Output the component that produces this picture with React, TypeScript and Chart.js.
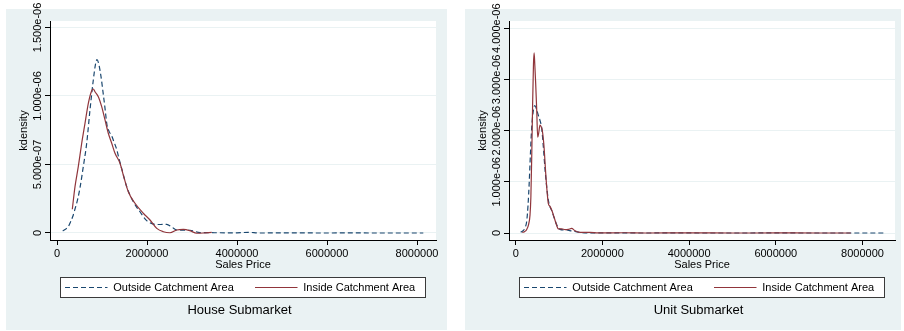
import React, { useEffect, useRef } from 'react';
import { Chart, registerables } from 'chart.js';

Chart.register(...registerables);

// ---------- data ----------
const seriesLabels = ['Outside Catchment Area', 'Inside Catchment Area'];
const panelTitles = ['House Submarket', 'Unit Submarket'];
const xTitle = 'Sales Price';
const yTitle = 'kdensity';

const xTicks = [0, 2000000, 4000000, 6000000, 8000000];
const xTickLabels = ['0', '2000000', '4000000', '6000000', '8000000'];
const houseYTicks = [0, 5e-7, 1e-6, 1.5e-6];
const houseYTickLabels = ['0', '5.000e-07', '1.000e-06', '1.500e-06'];
const unitYTicks = [0, 1e-6, 2e-6, 3e-6, 4e-6];
const unitYTickLabels = ['0', '1.000e-06', '2.000e-06', '3.000e-06', '4.000e-06'];

const houseXRange = [-155556, 8422000];
const houseYRange = [-5.11e-8, 1.5474e-6];
const unitXRange = [-154556, 8750000];
const unitYRange = [-1.367e-7, 4.141e-6];

const houseOutsidePrice = [127e3, 200e3, 251e3, 300e3, 350e3, 400e3, 455e3, 511e3, 584e3, 660e3, 733e3, 807e3, 860e3, 890e3, 933e3, 978e3, 1022e3, 1067e3, 1110e3, 1160e3, 1216e3, 1267e3, 1327e3, 1380e3, 1438e3, 1549e3, 1696e3, 1844e3, 1993e3, 2100e3, 2178e3, 2300e3, 2438e3, 2549e3, 2660e3, 2800e3, 2956e3, 3178e3, 3500e3, 4000e3, 4250e3, 4500e3, 5000e3, 6000e3, 6500e3, 7000e3, 8140e3];
const houseOutsideDensity = [1.5e-8, 3.0e-8, 4.6e-8, 8.0e-8, 1.2e-7, 1.75e-7, 2.4e-7, 3.3e-7, 4.84e-7, 6.55e-7, 8.98e-7, 1.117e-6, 1.24e-6, 1.265e-6, 1.226e-6, 1.141e-6, 1.03e-6, 9.1e-7, 7.9e-7, 7.4e-7, 7.08e-7, 6.64e-7, 6.1e-7, 5.4e-7, 4.7e-7, 3.38e-7, 2.28e-7, 1.55e-7, 9.0e-8, 7.0e-8, 6.3e-8, 6.2e-8, 6.3e-8, 4.4e-8, 2.2e-8, 2.0e-8, 2.0e-8, 3e-9, 2e-9, 1e-9, 5e-9, 0, 1e-9, 0, 1e-9, 0, 0];

const houseInsidePrice = [340e3, 400e3, 473e3, 549e3, 622e3, 696e3, 771e3, 807e3, 844e3, 918e3, 993e3, 1067e3, 1140e3, 1216e3, 1289e3, 1400e3, 1473e3, 1584e3, 1733e3, 1918e3, 2067e3, 2216e3, 2362e3, 2511e3, 2660e3, 2807e3, 2956e3, 3104e3, 3251e3, 3438e3];
const houseInsideDensity = [1.73e-7, 3.38e-7, 4.84e-7, 6.55e-7, 8.0e-7, 9.47e-7, 1.039e-6, 1.051e-6, 1.031e-6, 9.95e-7, 9.22e-7, 8.25e-7, 7.28e-7, 6.55e-7, 5.82e-7, 5.09e-7, 4.23e-7, 3.01e-7, 2.17e-7, 1.44e-7, 9.5e-8, 3.4e-8, 9.5e-9, 2e-9, 2.2e-8, 2.7e-8, 1.7e-8, -2e-9, 0, 5e-9];

const unitOutsidePrice = [115e3, 170e3, 215e3, 254e3, 285e3, 310e3, 335e3, 365e3, 400e3, 440e3, 480e3, 521e3, 560e3, 600e3, 637e3, 676e3, 715e3, 752e3, 791e3, 830e3, 867e3, 906e3, 946e3, 983e3, 1022e3, 1100e3, 1180e3, 1253e3, 1370e3, 1483e3, 1650e3, 2000e3, 2500e3, 3000e3, 3600e3, 4000e3, 5000e3, 6000e3, 7000e3, 8490e3];
const unitOutsideDensity = [1.4e-8, 4.5e-8, 1.0e-7, 2.3e-7, 5.5e-7, 9.5e-7, 1.45e-6, 2.0e-6, 2.35e-6, 2.49e-6, 2.42e-6, 2.3e-6, 2.2e-6, 2.05e-6, 1.69e-6, 1.25e-6, 9.0e-7, 6.5e-7, 5.1e-7, 4.4e-7, 3.5e-7, 2.5e-7, 1.6e-7, 1.0e-7, 7e-8, 6e-8, 6e-8, 4.5e-8, 3e-8, 1.4e-8, 2e-9, 3e-9, 2e-9, 0, 3e-9, 1e-9, 0, 1e-9, 0, 0];

const unitInsidePrice = [152e3, 210e3, 254e3, 295e3, 330e3, 350e3, 370e3, 390e3, 410e3, 425e3, 440e3, 461e3, 485e3, 507e3, 530e3, 560e3, 590e3, 614e3, 653e3, 692e3, 720e3, 752e3, 790e3, 830e3, 870e3, 907e3, 945e3, 983e3, 1061e3, 1140e3, 1214e3, 1290e3, 1368e3, 1483e3, 1714e3, 1900e3, 2500e3, 3000e3, 4000e3, 5000e3, 6000e3, 7000e3, 7730e3];
const unitInsideDensity = [1e-8, 3e-8, 7e-8, 1.6e-7, 3.5e-7, 7e-7, 1.5e-6, 2.5e-6, 3.3e-6, 3.52e-6, 3.3e-6, 2.92e-6, 2.4e-6, 1.87e-6, 1.95e-6, 2.11e-6, 2.07e-6, 2.0e-6, 1.69e-6, 1.17e-6, 8.5e-7, 5.8e-7, 5.2e-7, 4.5e-7, 3.5e-7, 2.5e-7, 1.5e-7, 8e-8, 8e-8, 6.5e-8, 7e-8, 9e-8, 4.5e-8, 1.4e-8, 1.4e-8, 2e-9, 5e-9, 0, 2e-9, 0, 1e-9, 0, 0];

// ---------- styling ----------
const BG = '#EAF2F3';
const NAVY = '#1A476F';
const MAROON = '#90353B';
const FONT = '"Liberation Sans", Arial, sans-serif';
const TOP = 9; // top of the panel background inside the canvas
const BG_BOTTOM = 330;

const toPoints = (xs: number[], ys: number[]) => xs.map((x, i) => ({ x, y: ys[i] }));

type PanelProps = {
  left: number;
  width: number;
  rightPad: number;
  title: string;
  outside: { x: number; y: number }[];
  inside: { x: number; y: number }[];
  yTicks: number[];
  yTickLabels: string[];
  xRange: number[];
  yRange: number[];
};

function Panel(props: PanelProps) {
  const ref = useRef<HTMLCanvasElement>(null);
  useEffect(() => {
    const canvas = ref.current;
    if (!canvas) return;
    const decor = {
      id: 'decor',
      beforeDraw(chart: any) {
        const { ctx, chartArea: a, width } = chart;
        ctx.save();
        ctx.fillStyle = BG;
        ctx.fillRect(0, TOP, width, BG_BOTTOM - TOP);
        ctx.fillStyle = '#ffffff';
        ctx.fillRect(a.left, a.top, a.right - a.left, a.bottom - a.top);
        ctx.restore();
      },
      afterDraw(chart: any) {
        const { ctx } = chart;
        const ys = chart.scales.y;
        ctx.save();
        ctx.font = '11px ' + FONT;
        ctx.fillStyle = '#000';
        ctx.textAlign = 'center';
        ctx.textBaseline = 'middle';
        ys.ticks.forEach((t: any, i: number) => {
          const py = ys.getPixelForValue(t.value);
          ctx.save();
          ctx.translate(31.5, py);
          ctx.rotate(-Math.PI / 2);
          ctx.fillText(String(t.label ?? props.yTickLabels[i]), 0, 0);
          ctx.restore();
        });
        // legend box
        const bx = 54.5, by = TOP + 268.5, bw = 365, bh = 20;
        ctx.fillStyle = '#ffffff';
        ctx.fillRect(bx, by, bw, bh);
        ctx.strokeStyle = '#3a3a3a';
        ctx.lineWidth = 1;
        ctx.strokeRect(bx, by, bw, bh);
        chart.data.datasets.forEach((ds: any, i: number) => {
          const off = i * 190;
          ctx.save();
          ctx.strokeStyle = ds.borderColor;
          ctx.lineWidth = ds.borderWidth;
          ctx.setLineDash(ds.borderDash || []);
          ctx.beginPath();
          ctx.moveTo(59 + off, TOP + 278.5);
          ctx.lineTo(101.5 + off, TOP + 278.5);
          ctx.stroke();
          ctx.restore();
          ctx.fillStyle = '#000';
          ctx.textAlign = 'left';
          ctx.textBaseline = 'middle';
          ctx.font = '11px ' + FONT;
          ctx.fillText(ds.label, 107.3 + off, TOP + 279);
        });
        // panel title
        ctx.font = '13px ' + FONT;
        ctx.textAlign = 'center';
        ctx.fillStyle = '#000';
        ctx.fillText(props.title, 233.5, TOP + 301);
        ctx.restore();
      },
    };

    const chart = new Chart(canvas, {
      type: 'line',
      data: {
        datasets: [
          {
            label: seriesLabels[0],
            data: props.outside,
            borderColor: NAVY,
            borderWidth: 1.2,
            borderDash: [5, 3],
            pointRadius: 0,
            fill: false,
            tension: 0.4,
            cubicInterpolationMode: 'monotone',
            order: 1,
          },
          {
            label: seriesLabels[1],
            data: props.inside,
            borderColor: MAROON,
            borderWidth: 1.2,
            pointRadius: 0,
            fill: false,
            tension: 0.4,
            cubicInterpolationMode: 'monotone',
            order: 0,
          },
        ],
      },
      options: {
        responsive: false,
        animation: false,
        devicePixelRatio: 1,
        parsing: false,
        font: { family: FONT, size: 11 },
        color: '#000',
        layout: { padding: { top: TOP + 12, right: props.rightPad, bottom: 0, left: 0 } },
        plugins: {
          legend: { display: false },
          title: { display: false },
          tooltip: { enabled: false },
        },
        scales: {
          x: {
            type: 'linear',
            min: props.xRange[0],
            max: props.xRange[1],
            afterBuildTicks: (s: any) => {
              s.ticks = xTicks.map((v) => ({ value: v }));
            },
            afterFit: (s: any) => {
              s.height = 91;
            },
            ticks: {
              autoSkip: false,
              maxRotation: 0,
              minRotation: 0,
              padding: 2,
              color: '#000',
              font: { family: FONT, size: 11 },
              callback: (v: any) => {
                const i = xTicks.indexOf(Number(v));
                return i >= 0 ? xTickLabels[i] : '';
              },
            },
            grid: {
              drawOnChartArea: false,
              drawTicks: true,
              tickLength: 5,
              tickColor: '#000',
              tickWidth: 1,
            },
            border: { display: true, color: '#000', width: 1 },
            title: {
              display: true,
              text: xTitle,
              color: '#000',
              font: { family: FONT, size: 11 },
              padding: { top: 0, bottom: 59.4 },
            },
          },
          y: {
            type: 'linear',
            min: props.yRange[0],
            max: props.yRange[1],
            afterBuildTicks: (s: any) => {
              s.ticks = props.yTicks.map((v) => ({ value: v }));
            },
            afterFit: (s: any) => {
              s.width = 44;
            },
            ticks: {
              display: false,
              callback: (v: any) => {
                const i = props.yTicks.indexOf(Number(v));
                return i >= 0 ? props.yTickLabels[i] : '';
              },
            },
            grid: {
              display: true,
              drawOnChartArea: true,
              color: BG,
              lineWidth: 1,
              drawTicks: true,
              tickLength: 5,
              tickColor: '#000',
              tickWidth: 1,
            },
            border: { display: true, color: '#000', width: 1 },
            title: {
              display: true,
              text: yTitle,
              color: '#000',
              font: { family: FONT, size: 11 },
              padding: { top: 11, bottom: 0 },
            },
          },
        },
      },
      plugins: [decor],
    } as any);
    return () => chart.destroy();
  }, []);

  return (
    <canvas
      ref={ref}
      width={props.width}
      height={331}
      style={{ position: 'absolute', left: props.left, top: 0, width: props.width, height: 331 }}
    />
  );
}

export default function App() {
  return (
    <div style={{ position: 'fixed', left: 0, top: 0, width: 904, height: 331, background: '#ffffff' }}>
      <Panel
        left={6}
        width={441}
        rightPad={11}
        title={panelTitles[0]}
        outside={toPoints(houseOutsidePrice, houseOutsideDensity)}
        inside={toPoints(houseInsidePrice, houseInsideDensity)}
        yTicks={houseYTicks}
        yTickLabels={houseYTickLabels}
        xRange={houseXRange}
        yRange={houseYRange}
      />
      <Panel
        left={465}
        width={436}
        rightPad={6}
        title={panelTitles[1]}
        outside={toPoints(unitOutsidePrice, unitOutsideDensity)}
        inside={toPoints(unitInsidePrice, unitInsideDensity)}
        yTicks={unitYTicks}
        yTickLabels={unitYTickLabels}
        xRange={unitXRange}
        yRange={unitYRange}
      />
    </div>
  );
}
